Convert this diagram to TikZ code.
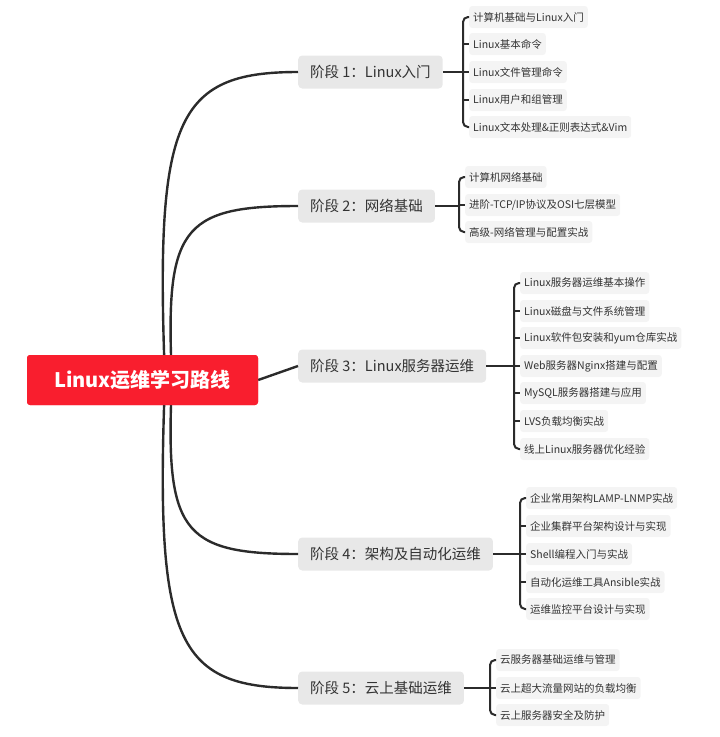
\documentclass[tikz,border=0pt]{standalone}
\usepackage{fontspec}
\setmainfont{Noto Sans CJK SC}
\definecolor{rootred}{HTML}{F91E2E}
\definecolor{stagegray}{HTML}{E8E8E8}
\definecolor{leafgray}{HTML}{F4F4F4}
\definecolor{linec}{HTML}{2B2B2B}
\definecolor{txt}{HTML}{333333}
\begin{document}
\begin{tikzpicture}[x=1pt,y=-1pt,
  rootbox/.style={fill=rootred,rounded corners=3pt,text=white,font=\fontsize{20}{24}\selectfont\bfseries,minimum width=231pt,minimum height=50pt,inner sep=0pt},
  stagebox/.style={fill=stagegray,rounded corners=4pt,text=txt,font=\fontsize{14.5}{17}\selectfont,minimum height=33pt,inner xsep=12pt,anchor=west},
  leafbox/.style={fill=leafgray,rounded corners=3pt,text=txt,font=\fontsize{10.5}{13}\selectfont,minimum height=22pt,inner xsep=4pt,anchor=west},
  curve/.style={draw=linec,line width=2.4pt},
  tick/.style={draw=linec,line width=2pt},
  brk/.style={draw=linec,line width=2pt,rounded corners=5pt}]
\useasboundingbox (0,0) rectangle (720,737);
\node[rootbox] (root) at (142.5,380) {Linux运维学习路线};
\node[stagebox] (s1) at (298,72) {阶段 1：Linux入门};
\node[stagebox] (s2) at (298,206) {阶段 2：网络基础};
\node[stagebox] (s3) at (298,366) {阶段 3：Linux服务器运维};
\node[stagebox] (s4) at (298,554) {阶段 4：架构及自动化运维};
\node[stagebox] (s5) at (298,688) {阶段 5：云上基础运维};
\draw[curve] (165,380) .. controls (155,120) and (175,72) .. (s1.west);
\draw[curve] (172,380) .. controls (165,230) and (180,206) .. (s2.west);
\draw[curve] (root.east) -- (s3.west);
\draw[curve] (172,380) .. controls (165,530) and (180,554) .. (s4.west);
\draw[curve] (165,380) .. controls (155,640) and (175,688) .. (s5.west);
\node[rootbox] at (root) {Linux运维学习路线};
% S1
\foreach \t/\y [count=\i] in {计算机基础与Linux入门/17,Linux基本命令/44,Linux文件管理命令/72,Linux用户和组管理/100,Linux文本处理\&正则表达式\&Vim/127}
  \node[leafbox] (a\i) at (469,\y) {\t};
\draw[brk] (a1.west) -- (463,17) -- (463,127) -- (a5.west);
\foreach \i/\y in {2/44,3/72,4/100} \draw[tick] (463,\y) -- (a\i.west);
\draw[tick] (s1.east) -- (463,72);
% S2
\foreach \t/\y [count=\i] in {计算机网络基础/177,{进阶-TCP/IP协议及OSI七层模型}/205,高级-网络管理与配置实战/232}
  \node[leafbox] (b\i) at (465,\y) {\t};
\draw[brk] (b1.west) -- (459,177) -- (459,232) -- (b3.west);
\draw[tick] (459,205) -- (b2.west);
\draw[tick] (s2.east) -- (459,206);
% S3
\foreach \t/\y [count=\i] in {Linux服务器运维基本操作/283,Linux磁盘与文件系统管理/311,Linux软件包安装和yum仓库实战/338,Web服务器Nginx搭建与配置/366,MySQL服务器搭建与应用/393,LVS负载均衡实战/421,线上Linux服务器优化经验/449}
  \node[leafbox] (c\i) at (520,\y) {\t};
\draw[brk] (c1.west) -- (514,283) -- (514,449) -- (c7.west);
\foreach \i/\y in {2/311,3/338,4/366,5/393,6/421} \draw[tick] (514,\y) -- (c\i.west);
\draw[tick] (s3.east) -- (514,366);
% S4
\foreach \t/\y [count=\i] in {企业常用架构LAMP-LNMP实战/498,企业集群平台架构设计与实现/526,Shell编程入门与实战/554,自动化运维工具Ansible实战/582,运维监控平台设计与实现/609}
  \node[leafbox] (d\i) at (526,\y) {\t};
\draw[brk] (d1.west) -- (520,498) -- (520,609) -- (d5.west);
\foreach \i/\y in {2/526,3/554,4/582} \draw[tick] (520,\y) -- (d\i.west);
\draw[tick] (s4.east) -- (520,554);
% S5
\foreach \t/\y [count=\i] in {云服务器基础运维与管理/660,云上超大流量网站的负载均衡/688,云上服务器安全及防护/715}
  \node[leafbox] (e\i) at (496,\y) {\t};
\draw[brk] (e1.west) -- (490,660) -- (490,715) -- (e3.west);
\draw[tick] (490,688) -- (e2.west);
\draw[tick] (s5.east) -- (490,688);
\end{tikzpicture}
\end{document}
